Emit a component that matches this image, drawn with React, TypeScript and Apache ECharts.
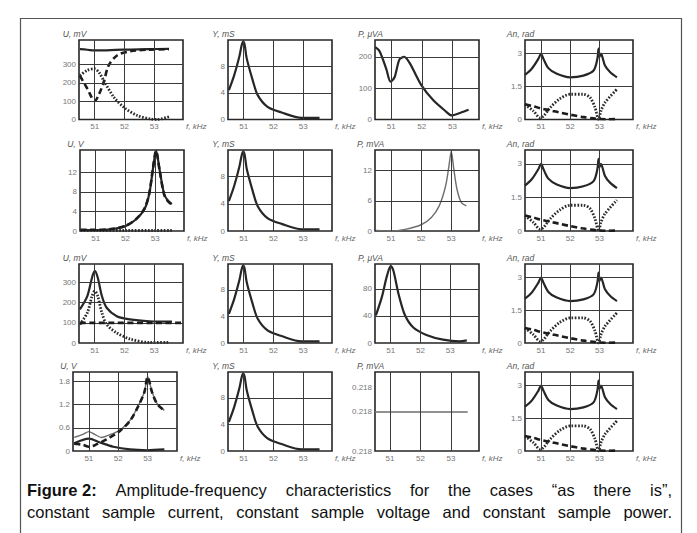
import React, { useEffect, useRef } from "react";
import * as echarts from "echarts";

const W = 697;
const H = 533;

// ---------- data ----------
const freqTicks = [51, 52, 53];

// row 1 ("as there is")
const u1Solid = [[50.5, 383], [50.75, 380], [51.0, 376], [51.3, 376], [51.7, 379], [52.2, 381], [52.8, 383], [53.5, 385]];
const u1Dashed = [[50.5, 239], [50.75, 168], [51.0, 101], [51.15, 140], [51.3, 203], [51.47, 295], [51.76, 350], [52.2, 372], [52.77, 380], [53.5, 383]];
const u1Dotted = [[50.5, 239], [50.75, 268], [51.0, 276], [51.15, 255], [51.3, 212], [51.65, 120], [52.0, 64], [52.43, 22], [52.9, 2], [53.1, 0], [53.5, 15]];
const admittance = [[50.5, 4.4], [50.68, 6.65], [50.85, 9.4], [50.93, 11.1], [50.98, 11.65], [51.03, 11.2], [51.1, 9.15], [51.3, 5.9], [51.47, 3.65], [51.8, 1.9], [52.27, 1.05], [52.95, 0.25], [53.55, 0.25]];
const p1 = [[50.48, 231], [50.62, 218], [50.84, 161], [50.98, 121], [51.11, 135], [51.27, 192], [51.42, 200], [51.6, 181], [51.99, 109], [52.37, 62], [52.76, 28], [52.98, 13], [53.25, 21], [53.53, 31]];
const anSolid = [[50.45, 2.03], [50.68, 2.31], [50.91, 2.77], [51.0, 3.0], [51.08, 2.77], [51.25, 2.34], [51.54, 2.08], [52.0, 1.92], [52.45, 2.0], [52.8, 2.23], [52.93, 2.77], [52.97, 3.23], [53.0, 2.85], [53.05, 3.0], [53.19, 2.46], [53.37, 2.15], [53.6, 1.92]];
const anDotted = [[50.45, 0.69], [50.74, 0.38], [50.97, 0.08], [51.08, 0.15], [51.31, 0.54], [51.65, 0.95], [52.0, 1.15], [52.45, 1.15], [52.68, 1.0], [52.85, 0.54], [52.97, 0.0], [53.05, 0.38], [53.19, 0.77], [53.6, 1.38]];
const anDashed = [[50.45, 0.69], [50.75, 0.6], [51.0, 0.5], [51.3, 0.42], [51.6, 0.33], [52.0, 0.22], [52.4, 0.12], [52.8, 0.05], [53.0, 0.02], [53.3, 0.01], [53.6, 0.02]];

// row 2 (constant current)
const u2Solid = [[50.49, 0.2], [51.0, 0.2], [51.5, 0.35], [52.0, 1.0], [52.36, 2.4], [52.64, 4.5], [52.8, 7.6], [52.92, 12.5], [53.03, 16.5], [53.15, 12.5], [53.3, 7.6], [53.43, 6.2], [53.56, 5.5]];
const u2Dashed = [[50.49, 0.25], [51.0, 0.25], [51.5, 0.4], [52.0, 1.05], [52.36, 2.45], [52.64, 4.6], [52.8, 7.7], [52.92, 12.6], [53.03, 16.4], [53.15, 12.4], [53.3, 7.5], [53.43, 6.1], [53.56, 5.4]];
const u2Dotted = [[50.49, 0.1], [51.0, 0.1], [52.0, 0.1], [53.0, 0.1], [53.56, 0.1]];
const p2 = [[50.5, 0.13], [51.0, 0.0], [51.47, 0.33], [52.0, 1.24], [52.34, 2.7], [52.6, 5.0], [52.81, 8.9], [52.92, 12.8], [53.0, 15.8], [53.08, 12.5], [53.19, 8.3], [53.33, 5.7], [53.5, 5.0]];

// row 3 (constant voltage)
const u3Solid = [[50.5, 167], [50.75, 233], [50.91, 325], [51.0, 358], [51.1, 325], [51.24, 233], [51.4, 175], [51.74, 133], [52.18, 117], [52.84, 108], [53.6, 106]];
const u3Dotted = [[50.5, 92], [50.75, 150], [50.91, 233], [51.0, 258], [51.1, 233], [51.24, 150], [51.4, 92], [51.74, 50], [52.18, 20], [52.84, 3], [53.5, 3]];
const u3Dashed = [[50.5, 100], [53.93, 100]];
const p3 = [[50.5, 41], [50.7, 68], [50.87, 99], [51.0, 114], [51.09, 107], [51.26, 73], [51.48, 41], [51.76, 23], [52.2, 12], [52.76, 5], [53.31, 2.4], [53.56, 4]];

// row 4 (constant power)
const u4Dashed = [[50.5, 0.19], [50.8, 0.16], [51.0, 0.11], [51.2, 0.15], [51.6, 0.3], [52.06, 0.52], [52.4, 0.78], [52.69, 1.17], [52.89, 1.52], [53.0, 1.91], [53.15, 1.52], [53.32, 1.22], [53.57, 1.04]];
const u4Upper = [[50.5, 0.35], [50.8, 0.43], [51.0, 0.5], [51.2, 0.43], [51.43, 0.35], [51.78, 0.44], [52.06, 0.54], [52.4, 0.79], [52.69, 1.18], [52.89, 1.53], [53.0, 1.92], [53.15, 1.53], [53.32, 1.23], [53.57, 1.05]];
const u4Lower = [[50.5, 0.2], [51.0, 0.32], [51.38, 0.22], [51.83, 0.11], [52.4, 0.04], [52.98, 0.02], [53.57, 0.04]];
const p4 = [[50.5, 0.218], [53.55, 0.218]];

// axis tick labels / grid values
const yTicksUmV1 = [0, 100, 200, 300];
const yTicksY = [0, 4, 8];
const yTicksPuVA1 = [0, 100, 200];
const yTicksAn = [0, 1.5, 3];
const yTicksUV2 = [0, 4, 8, 12];
const yTicksPmVA2 = [0, 6, 12];
const yTicksUmV3 = [0, 100, 200, 300];
const yTicksPuVA3 = [0, 40, 80];
const yTicksUV4 = [0, 0.6, 1.2, 1.8];
const yTicksPmVA4 = [0.217839, 0.218, 0.2181];
const yGridPmVA4 = [0.2179, 0.218, 0.2181];

const captionLine1 = ["Figure 2:", "Amplitude-frequency", "characteristics", "for", "the", "cases", "\u201Cas", "there", "is\u201D,"];
const captionLine2 = ["constant", "sample", "current,", "constant", "sample", "voltage", "and", "constant", "sample", "power."];

// ---------- layout ----------
type Kind = "solid" | "dashed" | "dotted" | "thin";
type Panel = {
  box: [number, number, number, number];
  yName: string;
  yMin: number;
  yMax: number;
  yLabels: number[];
  yGrid?: number[];
  xMin: number;
  xMax: number;
  digits?: number;
  lines: { data: number[][]; kind: Kind }[];
};

const R = [
  [40, 119.5],
  [150, 231],
  [264, 343],
  [372, 451],
];
const C = [
  [79, 183],
  [228, 332],
  [375, 479],
  [525, 633],
];
const bx = (r: number, c: number, dl = 0): [number, number, number, number] => [C[c][0] + dl, R[r][0], C[c][1] + dl, R[r][1]];

const X0 = 50.47, X1 = 53.97, X4a = 50.45, X4b = 54.15;

const panels: Panel[] = [
  { box: bx(0, 0), yName: "U, mV", yMin: 0, yMax: 433, yLabels: yTicksUmV1, xMin: X0, xMax: X1,
    lines: [{ data: u1Solid, kind: "solid" }, { data: u1Dashed, kind: "dashed" }, { data: u1Dotted, kind: "dotted" }] },
  { box: bx(0, 1), yName: "Y, mS", yMin: 0, yMax: 11.9, yLabels: yTicksY, xMin: X0, xMax: X1, lines: [{ data: admittance, kind: "solid" }] },
  { box: bx(0, 2), yName: "P, \u03BCVA", yMin: 0, yMax: 254, yLabels: yTicksPuVA1, xMin: X0, xMax: X1 - 0.1, lines: [{ data: p1, kind: "solid" }] },
  { box: bx(0, 3), yName: "An, rad", yMin: 0, yMax: 3.62, yLabels: yTicksAn, xMin: X4a, xMax: X4b,
    lines: [{ data: anSolid, kind: "solid" }, { data: anDotted, kind: "dotted" }, { data: anDashed, kind: "dashed" }] },

  { box: bx(1, 0, 1), yName: "U, V", yMin: 0, yMax: 16.6, yLabels: yTicksUV2, xMin: X0, xMax: X1,
    lines: [{ data: u2Dotted, kind: "dotted" }, { data: u2Solid, kind: "solid" }, { data: u2Dashed, kind: "dashed" }] },
  { box: bx(1, 1), yName: "Y, mS", yMin: 0, yMax: 11.9, yLabels: yTicksY, xMin: X0, xMax: X1, lines: [{ data: admittance, kind: "solid" }] },
  { box: bx(1, 2), yName: "P, mVA", yMin: 0, yMax: 16.1, yLabels: yTicksPmVA2, xMin: X0, xMax: X1 - 0.05, lines: [{ data: p2, kind: "thin" }] },
  { box: bx(1, 3), yName: "An, rad", yMin: 0, yMax: 3.62, yLabels: yTicksAn, xMin: X4a, xMax: X4b,
    lines: [{ data: anSolid, kind: "solid" }, { data: anDotted, kind: "dotted" }, { data: anDashed, kind: "dashed" }] },

  { box: bx(2, 0), yName: "U, mV", yMin: 0, yMax: 392, yLabels: yTicksUmV3, xMin: X0, xMax: X1,
    lines: [{ data: u3Solid, kind: "solid" }, { data: u3Dotted, kind: "dotted" }, { data: u3Dashed, kind: "dashed" }] },
  { box: bx(2, 1), yName: "Y, mS", yMin: 0, yMax: 11.9, yLabels: yTicksY, xMin: X0, xMax: X1, lines: [{ data: admittance, kind: "solid" }] },
  { box: bx(2, 2), yName: "P, \u03BCVA", yMin: 0, yMax: 117, yLabels: yTicksPuVA3, xMin: X0, xMax: X1, lines: [{ data: p3, kind: "solid" }] },
  { box: bx(2, 3), yName: "An, rad", yMin: 0, yMax: 3.62, yLabels: yTicksAn, xMin: X4a, xMax: X4b,
    lines: [{ data: anSolid, kind: "solid" }, { data: anDotted, kind: "dotted" }, { data: anDashed, kind: "dashed" }] },

  { box: bx(3, 0, -6), yName: "U, V", yMin: 0, yMax: 2.04, yLabels: yTicksUV4, xMin: 50.46, xMax: 54.0,
    lines: [{ data: u4Upper, kind: "thin" }, { data: u4Lower, kind: "solid" }, { data: u4Dashed, kind: "dashed" }] },
  { box: bx(3, 1), yName: "Y, mS", yMin: 0, yMax: 11.9, yLabels: yTicksY, xMin: X0, xMax: X1, lines: [{ data: admittance, kind: "solid" }] },
  { box: bx(3, 2), yName: "P, mVA", yMin: 0.217839, yMax: 0.218165, yLabels: yTicksPmVA4, yGrid: yGridPmVA4, digits: 3, xMin: 50.51, xMax: 53.92,
    lines: [{ data: p4, kind: "thin" }] },
  { box: bx(3, 3), yName: "An, rad", yMin: 0, yMax: 3.62, yLabels: yTicksAn, xMin: X4a, xMax: X4b,
    lines: [{ data: anSolid, kind: "solid" }, { data: anDotted, kind: "dotted" }, { data: anDashed, kind: "dashed" }] },
];

const styles: Record<Kind, any> = {
  solid: { color: "#262626", width: 2.2, type: "solid" },
  dashed: { color: "#1c1c1c", width: 2.6, type: [6, 3.5] },
  dotted: { color: "#2a2a2a", width: 2.8, type: [1.6, 1.6] },
  thin: { color: "#6e6e6e", width: 1.4, type: "solid" },
};

const FONT = "'Liberation Sans', Arial, sans-serif";

function justifyLine(words: string[], boldCount: number, x0: number, x1: number, y: number, size: number) {
  const canvas = document.createElement("canvas");
  const ctx = canvas.getContext("2d")!;
  const widths = words.map((w, i) => {
    ctx.font = `${i < boldCount ? "bold " : ""}${size}px "Liberation Sans"`;
    return ctx.measureText(w).width;
  });
  const total = widths.reduce((a, b) => a + b, 0);
  const gap = (x1 - x0 - total) / (words.length - 1);
  let x = x0;
  return words.map((w, i) => {
    const el = {
      type: "text",
      x,
      y,
      style: {
        text: w,
        fontFamily: FONT,
        fontSize: size,
        fontWeight: i < boldCount ? "bold" : "normal",
        fill: "#111",
        textAlign: "left",
        textVerticalAlign: "middle",
      },
    };
    x += widths[i] + gap;
    return el;
  });
}

export default function App() {
  const ref = useRef<HTMLDivElement>(null);
  useEffect(() => {
    if (!ref.current) return;
    const chart = echarts.init(ref.current, undefined, { renderer: "svg" });
    const grid: any[] = [];
    const xAxis: any[] = [];
    const yAxis: any[] = [];
    const series: any[] = [];
    panels.forEach((p, i) => {
      const [l, t, r, b] = p.box;
      grid.push({ left: l, top: t, width: r - l, height: b - t, show: true, borderColor: "#262626", borderWidth: 1.6, backgroundColor: "transparent" });
      xAxis.push({
        type: "value", gridIndex: i, min: p.xMin, max: p.xMax,
        axisLine: { show: false }, axisTick: { show: false }, splitLine: { show: false },
        axisLabel: { customValues: freqTicks, fontSize: 8, color: "#777", margin: 3, fontFamily: FONT, formatter: (v: number) => String(v) },
        name: "f, kHz", nameLocation: "end", nameGap: 3,
        nameTextStyle: { fontSize: 8, color: "#666", fontStyle: "italic", fontFamily: FONT, verticalAlign: "top", padding: [3, 0, 0, 0] },
      });
      yAxis.push({
        type: "value", gridIndex: i, min: p.yMin, max: p.yMax,
        axisLine: { show: false }, axisTick: { show: false }, splitLine: { show: false },
        axisLabel: {
          customValues: p.yLabels, fontSize: 8, color: "#777", margin: 3, fontFamily: FONT,
          formatter: (v: number) => (p.digits ? v.toFixed(p.digits) : String(v)),
        },
        name: p.yName, nameLocation: "end", nameGap: 2,
        nameTextStyle: { fontSize: 8.5, color: "#555", fontStyle: "italic", fontFamily: FONT, align: "center", verticalAlign: "bottom", padding: [0, 9, 0, 0] },
      });
      const gridY = p.yGrid ?? p.yLabels.filter((v) => v !== p.yMin);
      p.lines.forEach((ln, k) => {
        const s: any = {
          type: "line", xAxisIndex: i, yAxisIndex: i, data: ln.data, showSymbol: false, symbol: "none",
          smooth: 0.3, lineStyle: styles[ln.kind], silent: true, z: 3 + k,
        };
        if (k === 0) {
          s.markLine = {
            silent: true, symbol: ["none", "none"], label: { show: false }, animation: false,
            lineStyle: { color: "#3a3a3a", width: 1, type: "solid" },
            emphasis: { disabled: true },
            data: [...freqTicks.map((f) => ({ xAxis: f })), ...gridY.map((v) => ({ yAxis: v }))],
          };
        }
        series.push(s);
      });
    });

    const graphic: any[] = [
      { type: "rect", shape: { x: 20.5, y: 18.5, width: 661, height: 530 }, style: { fill: "none", stroke: "#555", lineWidth: 1.2 }, silent: true },
      ...justifyLine(captionLine1, 1, 27, 672, 490, 16.5),
      ...justifyLine(captionLine2, 0, 27, 672, 512, 16.5),
    ];

    chart.setOption({ animation: false, grid, xAxis, yAxis, series, graphic });
    return () => chart.dispose();
  }, []);
  return <div ref={ref} style={{ position: "absolute", left: 0, top: 0, width: W, height: H, background: "#fff" }} />;
}
